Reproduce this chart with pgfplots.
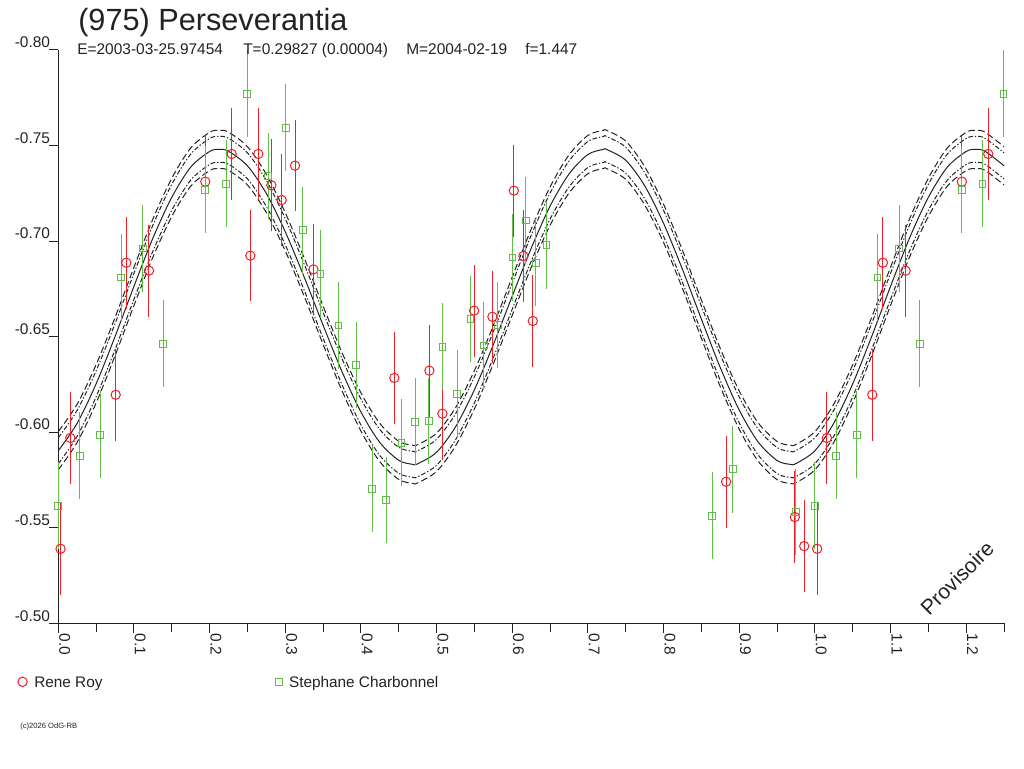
\documentclass[border=0pt]{standalone}
\usepackage{fontspec}
\setmainfont{Liberation Sans}
\usepackage{pgfplots}
\pgfplotsset{compat=1.18}
\usepackage{pgfplotstable}
\definecolor{rr}{RGB}{236,32,40}
\definecolor{sc}{RGB}{98,188,72}
\definecolor{ink}{RGB}{34,34,34}

% fitted curve (mid) with its two envelopes on each side
\pgfplotstableread{
x m a b c d
0.000 -0.5903 -0.6003 -0.5971 -0.5835 -0.5803
0.025 -0.6047 -0.6147 -0.6115 -0.5979 -0.5947
0.050 -0.6253 -0.6353 -0.6321 -0.6185 -0.6153
0.075 -0.6500 -0.6600 -0.6568 -0.6432 -0.6400
0.100 -0.6763 -0.6863 -0.6831 -0.6695 -0.6663
0.125 -0.7015 -0.7115 -0.7083 -0.6947 -0.6915
0.150 -0.7229 -0.7329 -0.7297 -0.7161 -0.7129
0.175 -0.7387 -0.7487 -0.7455 -0.7319 -0.7287
0.200 -0.7469 -0.7569 -0.7537 -0.7401 -0.7369
0.2125 -0.7480 -0.7580 -0.7548 -0.7412 -0.7380
0.225 -0.7470 -0.7570 -0.7538 -0.7402 -0.7370
0.250 -0.7394 -0.7494 -0.7462 -0.7326 -0.7294
0.275 -0.7249 -0.7349 -0.7317 -0.7181 -0.7149
0.300 -0.7049 -0.7149 -0.7117 -0.6981 -0.6949
0.325 -0.6812 -0.6912 -0.6880 -0.6744 -0.6712
0.350 -0.6560 -0.6660 -0.6628 -0.6492 -0.6460
0.375 -0.6317 -0.6417 -0.6385 -0.6249 -0.6217
0.400 -0.6106 -0.6206 -0.6174 -0.6038 -0.6006
0.425 -0.5946 -0.6046 -0.6014 -0.5878 -0.5846
0.450 -0.5853 -0.5953 -0.5921 -0.5785 -0.5753
0.4685 -0.5832 -0.5932 -0.5900 -0.5764 -0.5732
0.475 -0.5835 -0.5935 -0.5903 -0.5767 -0.5735
0.500 -0.5895 -0.5995 -0.5963 -0.5827 -0.5795
0.525 -0.6028 -0.6128 -0.6096 -0.5960 -0.5928
0.550 -0.6222 -0.6322 -0.6290 -0.6154 -0.6122
0.575 -0.6458 -0.6558 -0.6526 -0.6390 -0.6358
0.600 -0.6712 -0.6812 -0.6780 -0.6644 -0.6612
0.625 -0.6962 -0.7062 -0.7030 -0.6894 -0.6862
0.650 -0.7183 -0.7283 -0.7251 -0.7115 -0.7083
0.675 -0.7351 -0.7451 -0.7419 -0.7283 -0.7251
0.700 -0.7453 -0.7553 -0.7521 -0.7385 -0.7353
0.7205 -0.7480 -0.7580 -0.7548 -0.7412 -0.7380
0.725 -0.7479 -0.7579 -0.7547 -0.7411 -0.7379
0.750 -0.7423 -0.7523 -0.7491 -0.7355 -0.7323
0.775 -0.7290 -0.7390 -0.7358 -0.7222 -0.7190
0.800 -0.7093 -0.7193 -0.7161 -0.7025 -0.6993
0.825 -0.6852 -0.6952 -0.6920 -0.6784 -0.6752
0.850 -0.6592 -0.6692 -0.6660 -0.6524 -0.6492
0.875 -0.6338 -0.6438 -0.6406 -0.6270 -0.6238
0.900 -0.6116 -0.6216 -0.6184 -0.6048 -0.6016
0.925 -0.5949 -0.6049 -0.6017 -0.5881 -0.5849
0.950 -0.5852 -0.5952 -0.5920 -0.5784 -0.5752
0.9673 -0.5832 -0.5932 -0.5900 -0.5764 -0.5732
0.975 -0.5836 -0.5936 -0.5904 -0.5768 -0.5736
1.000 -0.5903 -0.6003 -0.5971 -0.5835 -0.5803
1.025 -0.6047 -0.6147 -0.6115 -0.5979 -0.5947
1.050 -0.6253 -0.6353 -0.6321 -0.6185 -0.6153
1.075 -0.6500 -0.6600 -0.6568 -0.6432 -0.6400
1.100 -0.6763 -0.6863 -0.6831 -0.6695 -0.6663
1.125 -0.7015 -0.7115 -0.7083 -0.6947 -0.6915
1.150 -0.7229 -0.7329 -0.7297 -0.7161 -0.7129
1.175 -0.7387 -0.7487 -0.7455 -0.7319 -0.7287
1.200 -0.7469 -0.7569 -0.7537 -0.7401 -0.7369
1.2125 -0.7480 -0.7580 -0.7548 -0.7412 -0.7380
1.225 -0.7470 -0.7570 -0.7538 -0.7402 -0.7370
1.250 -0.7394 -0.7494 -0.7462 -0.7326 -0.7294
}\curve

\pgfplotstableread{
x y e
0.003 -0.5390 0.024
0.0159 -0.5970 0.024
0.0759 -0.6196 0.024
0.0899 -0.6887 0.024
0.1199 -0.6845 0.024
0.1943 -0.7311 0.024
0.2292 -0.7456 0.024
0.2539 -0.6924 0.024
0.2644 -0.7456 0.024
0.2816 -0.7292 0.024
0.2953 -0.7215 0.024
0.3129 -0.7395 0.024
0.3372 -0.6852 0.024
0.4442 -0.6284 0.024
0.4905 -0.6322 0.024
0.5077 -0.6097 0.024
0.5496 -0.6636 0.024
0.5738 -0.6604 0.024
0.6021 -0.7264 0.024
0.6148 -0.6922 0.024
0.6272 -0.6582 0.024
0.8827 -0.5741 0.024
0.9735 -0.5556 0.024
0.9859 -0.5404 0.024
1.003 -0.5390 0.024
1.0159 -0.5970 0.024
1.0759 -0.6196 0.024
1.0899 -0.6887 0.024
1.1199 -0.6845 0.024
1.1943 -0.7311 0.024
1.2292 -0.7456 0.024
}\rene

\pgfplotstableread{
x y e
0.0000 -0.5615 0.0227
0.0283 -0.5877 0.0227
0.0555 -0.5987 0.0227
0.0829 -0.6809 0.0227
0.1116 -0.6962 0.0227
0.1388 -0.6463 0.0227
0.1943 -0.7269 0.0227
0.2217 -0.7300 0.0227
0.2495 -0.7771 0.0227
0.2776 -0.7341 0.0227
0.3006 -0.7593 0.0227
0.3231 -0.7057 0.0227
0.3464 -0.6829 0.0227
0.3702 -0.6559 0.0227
0.3936 -0.6352 0.0227
0.4150 -0.5703 0.0227
0.4335 -0.5645 0.0227
0.4535 -0.5945 0.0227
0.4716 -0.6055 0.0227
0.4897 -0.6059 0.0227
0.5077 -0.6447 0.0227
0.5271 -0.6201 0.0227
0.5447 -0.6592 0.0227
0.5624 -0.6453 0.0227
0.5809 -0.6561 0.0227
0.6002 -0.6915 0.0227
0.6179 -0.7107 0.0227
0.6311 -0.6887 0.0227
0.6452 -0.6978 0.0227
0.8642 -0.5563 0.0227
0.8916 -0.5806 0.0227
0.9749 -0.5582 0.0227
1.0000 -0.5615 0.0227
1.0283 -0.5877 0.0227
1.0555 -0.5987 0.0227
1.0829 -0.6809 0.0227
1.1116 -0.6962 0.0227
1.1388 -0.6463 0.0227
1.1943 -0.7269 0.0227
1.2217 -0.7300 0.0227
1.2495 -0.7771 0.0227
}\steph

\begin{document}
\begin{tikzpicture}
\begin{axis}[
  scale only axis,
  width=709.3pt, height=430pt,
  at={(398.36pt,323.51pt)}, anchor=center,
  xmin=0, xmax=1.25, ymin=-0.80, ymax=-0.50,
  y dir=reverse,
  axis x line*=bottom, axis y line*=left,
  axis line style={-, line width=0.75pt, color=ink},
  tick style={line width=0.75pt, color=ink},
  tick align=outside,
  major tick length=7pt, minor tick length=6.25pt,
  xtick={0,0.1,0.2,0.3,0.4,0.5,0.6,0.7,0.8,0.9,1.0,1.1,1.2},
  xticklabels={0.0,0.1,0.2,0.3,0.4,0.5,0.6,0.7,0.8,0.9,1.0,1.1,1.2},
  minor xtick={0.05,0.15,0.25,0.35,0.45,0.55,0.65,0.75,0.85,0.95,1.05,1.15,1.25},
  ytick={-0.80,-0.75,-0.70,-0.65,-0.60,-0.55,-0.50},
  yticklabels={-0.80,-0.75,-0.70,-0.65,-0.60,-0.55,-0.50},
  every tick label/.append style={font=\fontsize{11.6}{13}\selectfont, text=ink},
  yticklabel style={anchor=base east, inner sep=0pt, yshift=1.7pt, xshift=1pt},
  xticklabel style={xshift=0.75pt, yshift=-0.5pt, rotate=-90, anchor=base west, inner sep=0pt},
  clip=false,
  legend columns=2,
  legend style={at={(axis description cs:-0.0427,-0.1036)}, anchor=west,
    draw=none, fill=none, inner sep=0pt, outer sep=0pt,
    font=\fontsize{11.5}{13}\selectfont, text=ink,
    nodes={inner sep=0pt, anchor=base west},
    /tikz/every odd column/.append style={column sep=5.3pt},
    /tikz/every even column/.append style={column sep=0pt}},
  legend image code/.code={\draw[#1] plot coordinates {(3.6pt,4.1pt)};},
]
\addplot[forget plot, ink, line width=0.75pt, smooth] table[x=x,y=m] {\curve};
\addplot[forget plot, ink, line width=0.75pt, smooth, dash pattern=on 5pt off 2.5pt] table[x=x,y=a] {\curve};
\addplot[forget plot, ink, line width=0.75pt, smooth, dash pattern=on 3.5pt off 1.5pt on 1pt off 1.5pt] table[x=x,y=b] {\curve};
\addplot[forget plot, ink, line width=0.75pt, smooth, dash pattern=on 3.5pt off 1.5pt on 1pt off 1.5pt] table[x=x,y=c] {\curve};
\addplot[forget plot, ink, line width=0.75pt, smooth, dash pattern=on 5pt off 2.5pt] table[x=x,y=d] {\curve};

\addplot[only marks, mark=o, mark size=3.5pt, color=rr, line width=0.75pt,
  error bars/.cd, y dir=both, y explicit, error mark=none,
  error bar style={color=rr, line width=0.75pt}]
  table[x=x, y=y, y error=e] {\rene};
\addlegendentry{\makebox[180.8pt][l]{Rene Roy}}
\addplot[only marks, mark=square, mark size=2.5pt, color=sc, line width=0.75pt,
  error bars/.cd, y dir=both, y explicit, error mark=none,
  error bar style={color=sc, line width=0.75pt}]
  table[x=x, y=y, y error=e] {\steph};
\addlegendentry{Stephane Charbonnel}
\end{axis}
\node[anchor=base west, inner sep=0pt, text=ink, font=\fontsize{23}{26}\selectfont] at (58.5pt,552.75pt) {(975) Perseverantia};
\begin{scope}[every node/.style={anchor=base west, inner sep=0pt, text=ink, font=\fontsize{11.6}{13}\selectfont}]
\node at (57.75pt,534.75pt) {E=2003-03-25.97454};
\node at (182.25pt,534.75pt) {T=0.29827 (0.00004)};
\node at (304.5pt,534.75pt) {M=2004-02-19};
\node at (393.75pt,534.75pt) {f=1.447};
\end{scope}
\node[anchor=base west, inner sep=0pt, text=ink, font=\fontsize{5.7}{6}\selectfont] at (15pt,30pt) {(c)2026 OdG-RB};
\node[rotate=45, inner sep=0pt, text=ink, font=\fontsize{15.75}{18}\selectfont] at (717.75pt,142.5pt) {Provisoire};
\pgfresetboundingbox
\path (0,0) rectangle (768pt,576pt);
\end{tikzpicture}
\end{document}
